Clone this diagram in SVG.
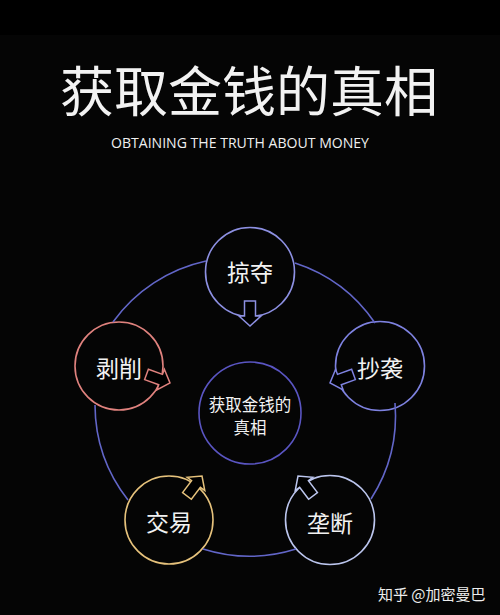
<svg xmlns="http://www.w3.org/2000/svg" xmlns:xlink="http://www.w3.org/1999/xlink" width="500" height="615" viewBox="0 0 500 615">
<style>
.cjk{font-family:"Noto Sans CJK SC","Noto Sans",sans-serif;fill:#f2f2f2;text-anchor:middle}
.node{fill:none;stroke-width:1.6}
.ring{fill:none;stroke:#6266c8;stroke-width:1.6}
.arr{fill:#000;stroke-width:1.5;stroke-linejoin:miter}
</style>
<defs>
<path id="arrow" d="M-25,-5.5 H-10 V-11 L0,0 L-10,11 V5.5 H-25 Z"/>
</defs>
<rect x="0" y="0" width="500" height="615" fill="#050505"/>
<rect x="0" y="0" width="500" height="35" fill="#000"/>
<g id="title">
<text class="cjk" x="249" y="112" font-size="54">获取金钱的真相</text>
<text x="111" y="148.3" font-family="'Open Sans','Liberation Sans',sans-serif" font-size="14" fill="#f0f0f0" textLength="258" lengthAdjust="spacingAndGlyphs">OBTAINING THE TRUTH ABOUT MONEY</text>
</g>
<g id="node-center">
<circle class="node" cx="250" cy="413" r="51" stroke="#5a55c2"/>
<text class="cjk" x="250" y="410.5" font-size="16.5">获取金钱的</text>
<text class="cjk" x="250" y="433.5" font-size="16.5">真相</text>
</g>
<g id="node-lueduo">
<circle class="node" cx="250" cy="272" r="44.5" stroke="#8d90e2"/>
<text class="cjk" x="250" y="281" font-size="23">掠夺</text>
</g>
<g id="node-boxue">
<circle class="node" cx="119" cy="366" r="44" stroke="#e0827e"/>
<text class="cjk" x="119" y="376.8" font-size="23">剥削</text>
</g>
<g id="node-chaoxi">
<circle class="node" cx="380" cy="366" r="44.5" stroke="#7e82e0"/>
<text class="cjk" x="380" y="376.5" font-size="23">抄袭</text>
</g>
<g id="node-jiaoyi">
<circle class="node" cx="169" cy="520" r="44" stroke="#e6c27c"/>
<text class="cjk" x="169" y="530.5" font-size="23">交易</text>
</g>
<g id="node-longduan">
<circle class="node" cx="330" cy="520" r="44.5" stroke="#bcc6ee"/>
<text class="cjk" x="330" y="531.5" font-size="23">垄断</text>
</g>
<g id="connectors">
<path class="ring" d="M295,263 A155,155 0 0 1 375,323"/>
<path class="ring" d="M395,403 A155,155 0 0 1 371,499"/>
<path class="ring" d="M296,549 A155,155 0 0 1 203,549"/>
<path class="ring" d="M128,500 A155,155 0 0 1 95,405"/>
<path class="ring" d="M113,322 A155,155 0 0 1 206,261"/>
<use xlink:href="#arrow" class="arr" stroke="#8d90e2" transform="translate(250,326) rotate(90)"/>
<use xlink:href="#arrow" class="arr" stroke="#e0827e" transform="translate(170,383) rotate(20)"/>
<use xlink:href="#arrow" class="arr" stroke="#7e82e0" transform="translate(330,383) rotate(160)"/>
<use xlink:href="#arrow" class="arr" stroke="#e6c27c" transform="translate(202,476) rotate(-53)"/>
<use xlink:href="#arrow" class="arr" stroke="#bcc6ee" transform="translate(298,476) rotate(-127)"/>
</g>
<g id="watermark">
<text x="378" y="600" font-family="'Noto Sans CJK SC','Noto Sans',sans-serif" font-size="15" fill="#eeeeee">知乎 @加密曼巴</text>
</g>
</svg>
